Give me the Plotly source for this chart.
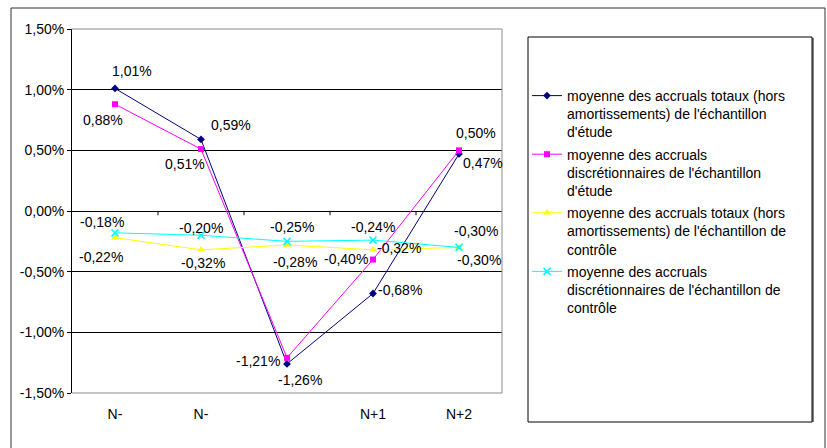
import plotly.graph_objects as go

# Periods around the event year (the middle period has no label)
periods = ["N-", "N-", "", "N+1", "N+2"]

# Mean accruals, in percent
totaux_etude = [1.01, 0.59, -1.26, -0.68, 0.47]
discr_etude = [0.88, 0.51, -1.21, -0.40, 0.50]
totaux_controle = [-0.22, -0.32, -0.28, -0.32, -0.30]
discr_controle = [-0.18, -0.20, -0.25, -0.24, -0.30]

y_ticks = [-1.5, -1.0, -0.5, 0.0, 0.5, 1.0, 1.5]

series_names = [
    "moyenne des accruals totaux (hors<br>amortissements) de l'échantillon<br>d'étude",
    "moyenne des accruals<br>discrétionnaires de l'échantillon<br>d'étude",
    "moyenne des accruals totaux (hors<br>amortissements) de l'échantillon de<br>contrôle",
    "moyenne des accruals<br>discrétionnaires de l'échantillon de<br>contrôle",
]
series_values = [totaux_etude, discr_etude, totaux_controle, discr_controle]

FONT = "Liberation Sans, Arial, sans-serif"
W, H = 827, 448
ML, MR, MT, MB = 72, 325, 29, 55
PW, PH = W - ML - MR, H - MT - MB

colors = ["#000080", "#FF00FF", "#FFFF00", "#00FFFF"]
symbols = ["diamond", "square", "triangle-up", "x-thin"]
msizes = [6, 6, 7, 7]

# label offsets in pixels (dx right, dy down) for each point of each series
label_offsets = [
    [(17, -17), (30, -14), (13, 16), (27, -4), (24, 9)],
    [(-12, 16), (-16, 15), (-29, 3), (-27, -1), (17, -17)],
    [(-14, 19), (2, 13), (8, 17), (26, -2), (20, 13)],
    [(-13, -11), (0, -7), (5, -14), (0, -13), (17, -16)],
]

xs = list(range(len(periods)))


def fmt(v):
    return f"{v:.2f}".replace(".", ",") + "%"


fig = go.Figure()
for name, vals, col, sym, ms in zip(series_names, series_values, colors, symbols, msizes):
    marker = dict(symbol=sym, size=ms, color=col)
    if sym == "x-thin":
        marker["line"] = dict(color=col, width=1.6)
    fig.add_trace(go.Scatter(
        x=xs, y=vals, name=name, mode="lines+markers",
        line=dict(color=col, width=1),
        marker=marker,
        legendgroup=name,
    ))

annotations = []
for vals, offs in zip(series_values, label_offsets):
    for x, v, (dx, dy) in zip(xs, vals, offs):
        annotations.append(dict(
            x=x, y=v, xref="x", yref="y", text=fmt(v), showarrow=False,
            xshift=dx, yshift=-dy, font=dict(family=FONT, size=14, color="black"),
        ))


def px_x(p):
    return (p - ML) / PW


def px_y(p):
    return (H - MB - p) / PH


shapes = []
# outer chart frame
shapes.append(dict(type="rect", xref="paper", yref="paper",
                   x0=px_x(11), x1=px_x(825), y0=px_y(470), y1=px_y(8),
                   line=dict(color="#303030", width=1), layer="below"))
# plot area border (top, right, bottom) in grey
shapes.append(dict(type="path", xref="paper", yref="paper",
                   path="M 0 1 L 1 1 L 1 0 L 0 0",
                   line=dict(color="#8c8c8c", width=1), layer="above"))
# category tick marks on the zero line
for b in [i + 0.5 for i in xs[:-1]]:
    shapes.append(dict(type="line", xref="x", yref="y", x0=b, x1=b,
                       y0=0, y1=-0.035, line=dict(color="black", width=1)))
# legend box and its shadow
shapes.append(dict(type="line", xref="paper", yref="paper",
                   x0=px_x(813), x1=px_x(813), y0=px_y(422), y1=px_y(38),
                   line=dict(color="#808080", width=2)))
shapes.append(dict(type="rect", xref="paper", yref="paper",
                   x0=px_x(528), x1=px_x(812), y0=px_y(422), y1=px_y(37),
                   line=dict(color="black", width=1)))

fig.update_layout(
    width=W, height=H,
    margin=dict(l=ML, r=MR, t=MT, b=MB),
    paper_bgcolor="white", plot_bgcolor="white",
    font=dict(family=FONT, size=14, color="black"),
    showlegend=True,
    legend=dict(
        x=px_x(527), y=px_y(80), xanchor="left", yanchor="top",
        bgcolor="rgba(0,0,0,0)", borderwidth=0,
        font=dict(family=FONT, size=14, color="black"),
        valign="top", tracegroupgap=1, itemwidth=30,
    ),
    xaxis=dict(
        range=[-0.5, len(periods) - 0.5],
        tickvals=xs, ticktext=periods,
        showgrid=False, zeroline=False, showline=False,
        ticks="outside", ticklen=8, tickcolor="rgba(0,0,0,0)",
        tickfont=dict(family=FONT, size=14),
        fixedrange=True,
    ),
    yaxis=dict(
        range=[y_ticks[0], y_ticks[-1]],
        tickvals=y_ticks, ticktext=[fmt(v) for v in y_ticks],
        showgrid=True, gridcolor="black", gridwidth=1,
        zeroline=True, zerolinecolor="black", zerolinewidth=1,
        showline=True, linecolor="black", linewidth=1,
        ticks="outside", ticklen=4, tickcolor="black",
        tickfont=dict(family=FONT, size=14),
        fixedrange=True,
    ),
    shapes=shapes,
    annotations=annotations,
)

fig.write_html("out.html")
